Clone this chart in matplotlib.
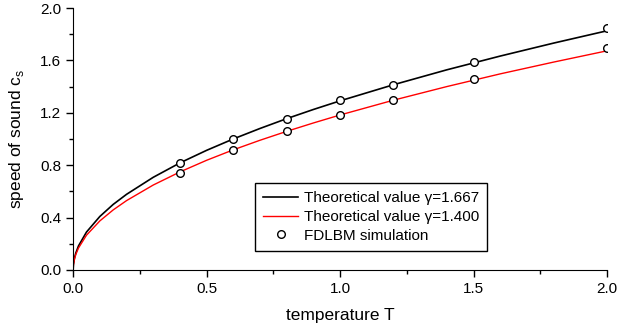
import matplotlib
matplotlib.use("Agg")
import matplotlib.pyplot as plt
from matplotlib.ticker import MultipleLocator

plt.rcParams['font.family'] = 'Liberation Sans'

# theoretical curves
t_line = [0.0, 0.001, 0.005, 0.01, 0.02, 0.05, 0.1, 0.15, 0.2, 0.3, 0.4, 0.5,
          0.6, 0.7, 0.8, 0.9, 1.0, 1.2, 1.4, 1.6, 1.8, 2.0]
c_1667 = [0.0, 0.041, 0.091, 0.129, 0.183, 0.289, 0.408, 0.5, 0.577, 0.707, 0.817,
          0.913, 1.0, 1.08, 1.155, 1.225, 1.291, 1.414, 1.528, 1.633, 1.732, 1.826]
c_1400 = [0.0, 0.037, 0.084, 0.118, 0.167, 0.265, 0.374, 0.458, 0.529, 0.648, 0.748,
          0.837, 0.917, 0.99, 1.058, 1.122, 1.183, 1.296, 1.4, 1.497, 1.587, 1.673]

# FDLBM simulation points
t_sim = [0.4, 0.6, 0.8, 1.0, 1.2, 1.5, 2.0]
sim_1667 = [0.815, 0.997, 1.152, 1.295, 1.415, 1.586, 1.845]
sim_1400 = [0.742, 0.912, 1.059, 1.183, 1.297, 1.456, 1.693]

fig = plt.figure(figsize=(6.2, 3.34), dpi=100)
ax = fig.add_axes([0.118, 0.192, 0.861, 0.784])

ax.plot(t_line, c_1667, color="black", linewidth=1.2, label="Theoretical value \u03b3=1.667")
ax.plot(t_line, c_1400, color="red", linewidth=1.0, label="Theoretical value \u03b3=1.400")
ax.plot(t_sim, sim_1667, linestyle="none", marker="o", markersize=5.5,
        markerfacecolor="white", markeredgecolor="black", markeredgewidth=1.0,
        label="FDLBM simulation")
ax.plot(t_sim, sim_1400, linestyle="none", marker="o", markersize=5.5,
        markerfacecolor="white", markeredgecolor="black", markeredgewidth=1.0)

ax.set_xlim(0, 2.0)
ax.set_ylim(0, 2.0)
ax.xaxis.set_major_locator(MultipleLocator(0.5))
ax.xaxis.set_minor_locator(MultipleLocator(0.25))
ax.yaxis.set_major_locator(MultipleLocator(0.4))
ax.yaxis.set_minor_locator(MultipleLocator(0.2))
ax.xaxis.set_major_formatter(plt.FormatStrFormatter("%.1f"))
ax.yaxis.set_major_formatter(plt.FormatStrFormatter("%.1f"))

ax.spines['top'].set_visible(False)
ax.spines['right'].set_visible(False)
ax.tick_params(which="major", direction="out", length=5, width=1, labelsize=11)
ax.tick_params(which="minor", direction="out", length=3, width=1)

ax.set_xlabel("temperature T", fontsize=12.5, labelpad=9)
ax.set_ylabel("speed of sound c$_\\mathregular{s}$", fontsize=12.5, labelpad=10)

leg = ax.legend(loc="lower left", bbox_to_anchor=(0.340, 0.072), borderaxespad=0,
                fontsize=11, fancybox=False, edgecolor="black", framealpha=1,
                handlelength=2.3, handletextpad=0.35, borderpad=0.55,
                labelspacing=0.3)
leg.get_frame().set_linewidth(1.0)

fig.savefig("out.png", dpi=100)
